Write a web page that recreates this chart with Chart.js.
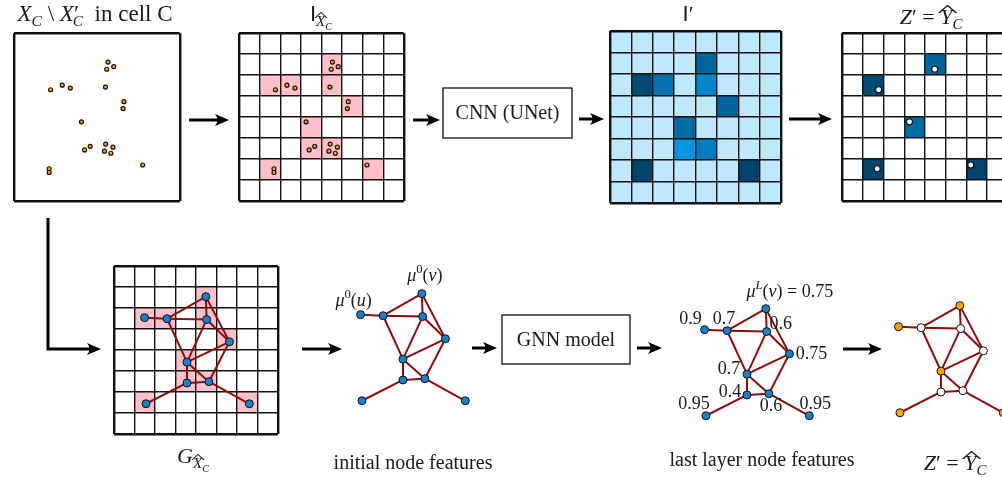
<!DOCTYPE html>
<html>
<head>
<meta charset="utf-8">
<script src="https://cdn.jsdelivr.net/npm/chart.js@4.4.1/dist/chart.umd.min.js"></script>
<style>
  body { margin: 0; width: 1002px; height: 477px; overflow: hidden; background: #fff; position: relative;
         font-family: "Liberation Serif", serif; color: #1a1a1a; }
  .box { position: absolute; }
  .lbl { position: absolute; transform: translateX(-50%); white-space: nowrap; font-size: 22px; line-height: 1; }
  .cap { font-size: 20px; }
  .sf { font-family: "Liberation Sans", sans-serif; }
  sub { font-size: 68%; vertical-align: -0.35em; line-height: 0; }
  .hat { position: relative; display: inline-block; }
  .hat::before { content: "^"; position: absolute; left: 58%; top: -0.32em; transform: translateX(-50%) scale(2.0, 0.8); font-style: normal; }
</style>
</head>
<body>
<div class="lbl" style="left:95px;top:2px;font-size:23px"><i>X</i><sub><i>C</i></sub> \ <i>X</i>′<sub style="margin-left:-0.4em"><i>C</i></sub>&nbsp; in cell C</div>
<div class="lbl" style="left:321px;top:3px"><span class="sf">I</span><sub><span class="hat"><i>X</i></span><sub><i>C</i></sub></sub></div>
<div class="lbl" style="left:688px;top:3px"><span class="sf">I</span>′</div>
<div class="lbl" style="left:931px;top:6px"><i>Z</i>′ = <span class="hat"><i>Y</i></span><sub><i>C</i></sub></div>
<div class="lbl" style="left:193px;top:445px"><i>G</i><sub><span class="hat"><i>X</i></span><sub><i>C</i></sub></sub></div>
<div class="lbl cap" style="left:413px;top:452px">initial node features</div>
<div class="lbl cap" style="left:762px;top:449px">last layer node features</div>
<div class="lbl" style="left:955px;top:452px"><i>Z</i>′ = <span class="hat"><i>Y</i></span><sub><i>C</i></sub></div>

<script>
// ===== DATA =====
const gridSize = 8;

// points of X_C \ X'_C (grid units: column, row from top)
const pointX = [4.53, 4.81, 4.47, 1.76, 2.32, 2.71, 4.41, 5.30, 5.26, 3.25, 3.40, 3.67, 4.42, 4.77, 4.36, 4.67, 6.21, 1.69, 1.69];
const pointY = [1.38, 1.60, 1.72, 2.70, 2.48, 2.62, 2.57, 3.27, 3.60, 4.23, 5.57, 5.40, 5.29, 5.44, 5.63, 5.73, 6.29, 6.47, 6.65];

// occupied cells (one per graph node, same order)
const cellCol = [4, 1, 2, 4, 5, 3, 3, 4, 1, 6];
const cellRow = [1, 2, 2, 2, 3, 4, 5, 5, 6, 6];
const cnnProb = [0.76, 0.92, 0.68, 0.55, 0.76, 0.72, 0.42, 0.62, 0.95, 0.95];

// graph G
const nodeX = [4.48, 1.49, 2.59, 4.52, 5.63, 3.56, 3.56, 4.63, 1.56, 6.60];
const nodeY = [1.46, 2.46, 2.51, 2.55, 3.61, 4.58, 5.57, 5.51, 6.56, 6.56];
const nodeName = ["v", "u", "", "", "", "", "", "", "", ""];
const edgeFrom = [1, 2, 2, 0, 0, 3, 3, 2, 5, 5, 5, 6, 7, 6, 7];
const edgeTo   = [2, 0, 3, 3, 4, 4, 5, 5, 4, 6, 7, 7, 4, 8, 9];
const nodeScore = [0.75, 0.9, 0.7, 0.6, 0.75, 0.7, 0.4, 0.6, 0.95, 0.95];
const selected = [1, 1, 0, 0, 0, 1, 0, 0, 1, 1];
const selectedPoint = [2, 3, 9, 17, 16];

// ===== STYLE =====
const PAD = 3;
const ORANGE = "#ffa500", PINK = "#ffc0cb", NODE = "#1a80c4", EDGE = "#8e0c0c", LIGHT = "#bfe8fc";
const probStops = [[0.4, [0, 152, 222]], [0.6, [0, 128, 194]], [0.75, [0, 103, 157]], [0.95, [0, 68, 107]]];

function probColor(p) {
  if (p <= probStops[0][0]) return `rgb(${probStops[0][1]})`;
  for (let i = 1; i < probStops.length; i++) {
    const [p1, c1] = probStops[i], [p0, c0] = probStops[i - 1];
    if (p <= p1) {
      const t = (p - p0) / (p1 - p0);
      return `rgb(${c0.map((v, k) => Math.round(v + (c1[k] - v) * t)).join(",")})`;
    }
  }
  return `rgb(${probStops[probStops.length - 1][1]})`;
}

const pts = idx => idx.map(i => ({ x: pointX[i], y: pointY[i] }));
const allPts = pts(pointX.map((_, i) => i));

function graphSets(nodeColors, r) {
  const node = i => ({ x: nodeX[i], y: nodeY[i] });
  const sets = [{
    data: nodeX.map((_, i) => node(i)), pointRadius: r, pointBackgroundColor: nodeColors,
    pointBorderColor: "#111", pointBorderWidth: 1, showLine: false
  }];
  edgeFrom.forEach((a, k) => sets.push({
    type: "line", data: [node(a), node(edgeTo[k])], borderColor: EDGE, borderWidth: 2,
    pointRadius: 0, fill: false, tension: 0
  }));
  return sets;
}

function axis(mode, rev) {
  return {
    type: "linear", min: 0, max: gridSize, reverse: rev, display: mode !== "none",
    ticks: { display: false, stepSize: 1 },
    border: { display: false },
    grid: {
      drawTicks: false,
      color: c => (mode === "frame" && c.index > 0 && c.index < gridSize) ? "rgba(0,0,0,0)" : "#111",
      lineWidth: c => (c.index === 0 || c.index === gridSize) ? 2.4 : 1.4
    }
  };
}

function drawRich(ctx, cx, cy, parts, size) {
  const font = s => (s.includes("i") ? "italic " : "") + (s.includes("s") ? size * 0.7 : size) + 'px "Liberation Serif"';
  let w = 0;
  parts.forEach(([t, s]) => { ctx.font = font(s); w += ctx.measureText(t).width; });
  let x = cx - w / 2;
  ctx.textBaseline = "middle"; ctx.textAlign = "left"; ctx.fillStyle = "#1a1a1a";
  parts.forEach(([t, s]) => {
    ctx.font = font(s);
    ctx.fillText(t, x, s.includes("s") ? cy - size * 0.38 : cy);
    x += ctx.measureText(t).width;
  });
}

function panel(frame, opt) {
  const [gx, gy, gw, gh] = frame;
  const div = document.createElement("div");
  div.className = "box";
  Object.assign(div.style, { left: (gx - PAD) + "px", top: (gy - PAD) + "px", width: (gw + 2 * PAD) + "px", height: (gh + 2 * PAD) + "px" });
  const cv = document.createElement("canvas");
  div.appendChild(cv);
  document.body.appendChild(div);
  const cells = opt.cells || [];
  const labels = opt.labels || [];
  return new Chart(cv, {
    type: "scatter",
    data: { datasets: opt.datasets },
    options: {
      responsive: true, maintainAspectRatio: false, animation: false, events: [],
      layout: { padding: PAD },
      plugins: { legend: { display: false }, tooltip: { enabled: false } },
      scales: { x: axis(opt.grid, false), y: axis(opt.grid, true) }
    },
    plugins: [{
      id: "cells",
      beforeDraw(chart) {
        const { ctx, scales: { x, y } } = chart;
        cells.forEach(([c, r, color]) => {
          const x0 = x.getPixelForValue(c), x1 = x.getPixelForValue(c + 1);
          const y0 = y.getPixelForValue(r), y1 = y.getPixelForValue(r + 1);
          ctx.fillStyle = color;
          ctx.fillRect(x0, y0, x1 - x0, y1 - y0);
        });
      },
      afterDatasetsDraw(chart) {
        const { ctx, scales: { x, y } } = chart;
        labels.forEach(l => drawRich(ctx, x.getPixelForValue(l.x) + l.dx, y.getPixelForValue(l.y) + l.dy, l.parts, l.size || 18));
      }
    }]
  });
}

// ===== TOP ROW =====
panel([12, 31, 170, 172], {
  grid: "frame",
  datasets: [{ data: allPts, pointRadius: 2, pointBackgroundColor: ORANGE, pointBorderColor: "#111", pointBorderWidth: 1.2 }]
});

panel([237, 31, 169, 172], {
  grid: "full",
  cells: cellCol.map((c, i) => [c, cellRow[i], PINK]),
  datasets: [{ data: allPts, pointRadius: 2, pointBackgroundColor: ORANGE, pointBorderColor: "#111", pointBorderWidth: 1.2 }]
});

const lightCells = [];
for (let c = 0; c < gridSize; c++) for (let r = 0; r < gridSize; r++) lightCells.push([c, r, LIGHT]);
panel([610, 31, 171, 172], {
  grid: "full",
  cells: lightCells.concat(cellCol.map((c, i) => [c, cellRow[i], probColor(cnnProb[i])])),
  datasets: []
});

panel([840, 31, 170, 172], {
  grid: "full",
  cells: cellCol.map((c, i) => [c, cellRow[i], probColor(cnnProb[i])]).filter((_, i) => selected[i]),
  datasets: [{ data: pts(selectedPoint), pointRadius: 3, pointBackgroundColor: "#fff", pointBorderColor: "#111", pointBorderWidth: 1.2 }]
});

// ===== BOTTOM ROW =====
panel([112, 264, 168, 172], {
  grid: "full",
  cells: cellCol.map((c, i) => [c, cellRow[i], PINK]),
  datasets: graphSets(NODE, 4)
});

const muLabel = (i, sup, tail) => [["μ", "i"], [sup, sup === "L" ? "si" : "s"], ["(", ""], [nodeName[i], "i"], [")" + tail, ""]];

panel([328, 260.5, 168, 172], {
  grid: "none",
  datasets: graphSets(NODE, 4),
  labels: [
    { x: nodeX[0], y: nodeY[0], dx: 3, dy: -17, parts: muLabel(0, "0", "") },
    { x: nodeX[1], y: nodeY[1], dx: -7, dy: -13, parts: muLabel(1, "0", "") }
  ]
});

const scoreOffset = [[24, -16], [-14, -10], [-3, -11], [14, -7], [22, 0], [-18, -5], [-17, -3], [2, 13], [-12, -11], [6, -11]];
panel([672, 276, 168, 172], {
  grid: "none",
  datasets: graphSets(NODE, 4),
  labels: nodeScore.map((s, i) => ({
    x: nodeX[i], y: nodeY[i], dx: scoreOffset[i][0], dy: scoreOffset[i][1],
    parts: i === 0 ? muLabel(0, "L", " = " + s) : [[String(s), ""]]
  }))
});

panel([866, 272.5, 168, 172], {
  grid: "none",
  datasets: graphSets(selected.map(s => s ? ORANGE : "#fff"), 4)
});

// ===== ARROWS AND BOXES =====
const arrows = [
  [[189, 120], [229, 120]], [[413, 120], [440, 120]], [[579, 119], [604, 119]], [[789, 119], [832, 119]],
  [[48, 218], [48, 349], [101, 349]],
  [[302, 349], [342, 349]], [[472, 348], [497, 348]], [[637, 348], [662, 348]], [[843, 349], [882, 349]]
];
const boxes = [
  { x0: 443, y0: 88, x1: 572, y1: 138, text: "CNN (UNet)" },
  { x0: 502, y0: 315, x1: 630, y1: 364, text: "GNN model" }
];

const bgDiv = document.createElement("div");
bgDiv.className = "box";
Object.assign(bgDiv.style, { left: "0px", top: "0px", width: "1002px", height: "477px" });
const bgCanvas = document.createElement("canvas");
bgDiv.appendChild(bgCanvas);
document.body.insertBefore(bgDiv, document.body.firstChild);

new Chart(bgCanvas, {
  type: "scatter",
  data: { datasets: [] },
  options: {
    responsive: true, maintainAspectRatio: false, animation: false, events: [],
    layout: { padding: 0 },
    plugins: { legend: { display: false }, tooltip: { enabled: false } },
    scales: {
      x: { type: "linear", min: 0, max: 1002, display: false },
      y: { type: "linear", min: 0, max: 477, reverse: true, display: false }
    }
  },
  plugins: [{
    id: "diagram",
    afterDraw(chart) {
      const { ctx, scales: { x, y } } = chart;
      ctx.save();
      arrows.forEach(a => {
        const p = a.map(([u, v]) => [x.getPixelForValue(u), y.getPixelForValue(v)]);
        const [ex, ey] = p[p.length - 1], [sx, sy] = p[p.length - 2];
        const ang = Math.atan2(ey - sy, ex - sx), L = 14, W = 6;
        const c = Math.cos(ang), s = Math.sin(ang);
        ctx.beginPath();
        ctx.moveTo(p[0][0], p[0][1]);
        for (let i = 1; i < p.length - 1; i++) ctx.lineTo(p[i][0], p[i][1]);
        ctx.lineTo(ex - c * (L - 4), ey - s * (L - 4));
        ctx.strokeStyle = "#000"; ctx.lineWidth = 3; ctx.lineJoin = "miter"; ctx.lineCap = "butt";
        ctx.stroke();
        const hx = ex - c * L, hy = ey - s * L;
        ctx.beginPath();
        ctx.moveTo(ex, ey);
        ctx.lineTo(hx - s * W, hy + c * W);
        ctx.quadraticCurveTo(ex - c * (L - 5), ey - s * (L - 5), hx + s * W, hy - c * W);
        ctx.closePath();
        ctx.fillStyle = "#000"; ctx.fill();
      });
      boxes.forEach(b => {
        const x0 = x.getPixelForValue(b.x0), x1 = x.getPixelForValue(b.x1);
        const y0 = y.getPixelForValue(b.y0), y1 = y.getPixelForValue(b.y1);
        ctx.strokeStyle = "#111"; ctx.lineWidth = 1.3;
        ctx.strokeRect(x0, y0, x1 - x0, y1 - y0);
        ctx.fillStyle = "#1a1a1a"; ctx.font = '20px "Liberation Serif"';
        ctx.textAlign = "center"; ctx.textBaseline = "middle";
        ctx.fillText(b.text, (x0 + x1) / 2, (y0 + y1) / 2 + 1);
      });
      ctx.restore();
    }
  }]
});
</script>
</body>
</html>
